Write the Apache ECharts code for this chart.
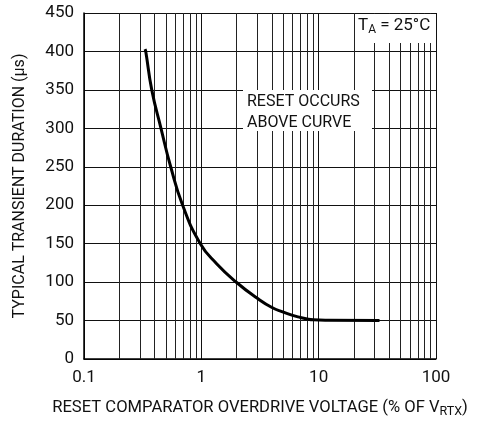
<!DOCTYPE html>
<html><head><meta charset="utf-8">
<script src="https://cdn.jsdelivr.net/npm/echarts@6/dist/echarts.min.js"></script>
<style>html,body{margin:0;padding:0;background:#fff}#c{width:478px;height:423px}</style>
</head><body><div id="c"></div>
<script>
const overdrive = [0.331, 0.336, 0.378, 0.453, 0.548, 0.693, 0.98, 1.35, 2.0, 3.0, 4.0, 5.0, 6.0, 7.0, 8.0, 9.0, 12, 33];
const duration  = [403, 400, 350, 300, 250, 200, 150, 124, 99.5, 79, 67, 61, 56.7, 54, 52, 51, 50.4, 50];
const minorX = [0.2,0.3,0.4,0.5,0.6,0.7,0.8,0.9,2,3,4,5,6,7,8,9,20,30,40,50,60,70,80,90];
const yTicks = [0,50,100,150,200,250,300,350,400,450];
const FONT = 'Roboto,"Liberation Sans",Arial,sans-serif';

const chart = echarts.init(document.getElementById('c'), null, {renderer:'canvas'});
chart.setOption({
  animation:false,
  grid:{left:84, right:42, top:13, bottom:58, containLabel:false},
  xAxis:{type:'log', logBase:10, min:0.1, max:100,
    name:'RESET COMPARATOR OVERDRIVE VOLTAGE (% OF V{sub|RTX})', nameLocation:'middle', nameGap:38,
    nameTextStyle:{color:'#111', fontFamily:FONT, fontSize:16.6, rich:{sub:{fontFamily:FONT,fontSize:12.5,verticalAlign:'bottom',padding:[8,0,0,0],color:'#111'}}},
    axisLine:{lineStyle:{color:'#000', width:1.5}}, axisTick:{show:false},
    axisLabel:{color:'#111', fontFamily:FONT, fontSize:17, margin:10},
    splitLine:{show:true, lineStyle:{color:'#111', width:1}}},
  yAxis:{type:'value', min:0, max:450, interval:50,
    name:'TYPICAL TRANSIENT DURATION (µs)', nameLocation:'middle', nameGap:56,
    nameTextStyle:{color:'#111', fontFamily:FONT, fontSize:16},
    axisLine:{show:true, lineStyle:{color:'#000', width:1.5}}, axisTick:{show:false},
    axisLabel:{color:'#111', fontFamily:FONT, fontSize:17, margin:10,
      formatter:v=> yTicks.includes(v)? String(v):''},
    splitLine:{show:true, lineStyle:{color:'#111', width:1}}},
  series:[
    {type:'line', data:[], silent:true, z:1,
     markLine:{silent:true, symbol:['none','none'], label:{show:false},
       lineStyle:{color:'#222', width:1, type:'solid'},
       data: minorX.map(v=>({xAxis:v}))}},
    {type:'line', smooth:0.5, showSymbol:false, z:5,
     lineStyle:{color:'#000', width:3},
     data: overdrive.map((x,i)=>[x, duration[i]])}
  ],
  graphic:[
    {type:'rect', z:100, shape:{x:243, y:90, width:129, height:41}, style:{fill:'#fff'}},
    {type:'text', z:101, left:247, top:91, style:{text:'RESET OCCURS\nABOVE CURVE', font:'16px '+FONT, fill:'#111', lineHeight:21}},
    {type:'rect', z:100, shape:{x:355, y:14, width:80, height:29}, style:{fill:'#fff'}},
    {type:'text', z:101, left:358, top:17, style:{rich:{n:{font:'17px '+FONT, fill:'#111'}, s:{font:'12px '+FONT, fill:'#111', padding:[9,0,0,0]}}, text:'{n|T}{s|A}{n| = 25°C}'}}
  ]
});
</script></body></html>
